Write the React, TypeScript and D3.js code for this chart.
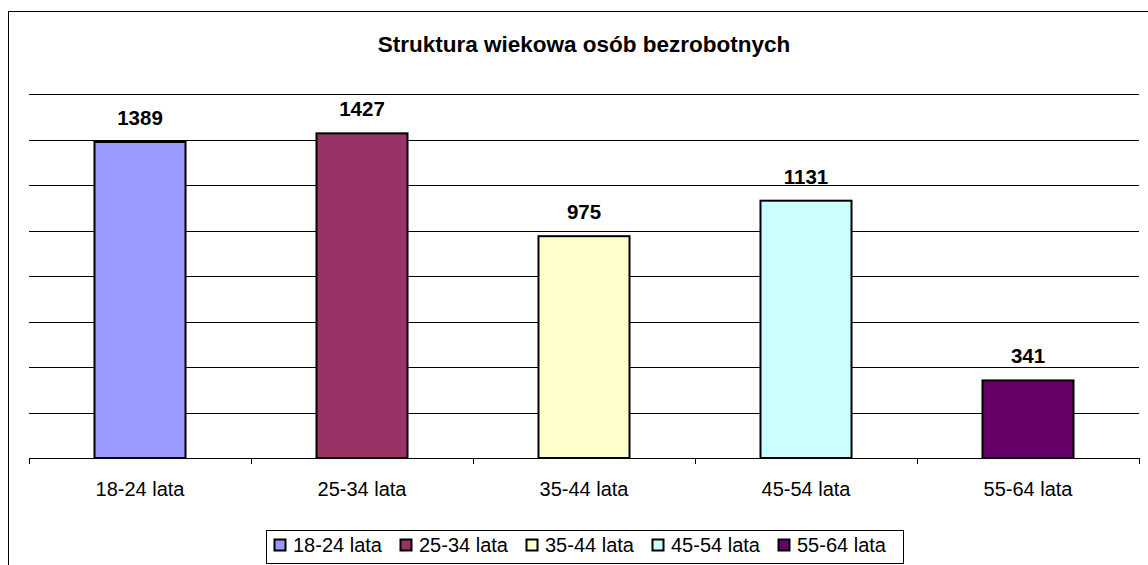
import React from "react";
import * as d3 from "d3";

const categories = ["18-24 lata", "25-34 lata", "35-44 lata", "45-54 lata", "55-64 lata"];
const values = [1389, 1427, 975, 1131, 341];
const colors = ["#9999FF", "#993366", "#FFFFCC", "#CCFFFF", "#660066"];
const yTicks = [0, 200, 400, 600, 800, 1000, 1200, 1400, 1600];
const title = "Struktura wiekowa osób bezrobotnych";

const W = 1148;
const H = 565;
const plot = { left: 29, right: 1139, top: 94, bottom: 458 };
const FONT = "Arial, 'Liberation Sans', sans-serif";

export default function App() {
  const band = d3.scaleBand<string>().domain(categories).range([plot.left, plot.right]).padding(0);
  const x = d3
    .scaleBand<string>()
    .domain(categories)
    .range([plot.left, plot.right])
    .paddingInner(0.59)
    .paddingOuter(0.295);
  const y = d3.scaleLinear().domain([0, 1600]).range([plot.bottom, plot.top]);
  const boundaries = [...categories.map((c) => band(c) as number), plot.right];

  const legendX0 = 274;
  const legendStride = 126;

  return (
    <svg
      width={W}
      height={H}
      style={{ position: "absolute", left: 0, top: 0, background: "#fff" }}
      fontFamily={FONT}
    >
      <rect x={0} y={0} width={W} height={H} fill="#fff" />
      {/* outer chart border */}
      <rect x={8.5} y={11.5} width={W + 20} height={H + 20} fill="none" stroke="#000" strokeWidth={1} />
      <text x={584} y={52} textAnchor="middle" fontSize={22.5} fontWeight="bold" fill="#000">
        {title}
      </text>
      {/* gridlines */}
      {yTicks.slice(1).map((t) => (
        <line
          key={t}
          x1={plot.left}
          x2={plot.right}
          y1={Math.round(y(t)) + 0.5}
          y2={Math.round(y(t)) + 0.5}
          stroke="#000"
          strokeWidth={1}
        />
      ))}
      {/* bars */}
      {categories.map((c, i) => (
        <rect
          key={c}
          x={x(c)}
          y={y(values[i])}
          width={x.bandwidth()}
          height={plot.bottom - y(values[i])}
          fill={colors[i]}
          stroke="#000"
          strokeWidth={2}
        />
      ))}
      {/* x axis */}
      <line x1={plot.left} x2={plot.right} y1={plot.bottom + 0.5} y2={plot.bottom + 0.5} stroke="#000" />
      {boundaries.map((b, i) => (
        <line key={i} x1={b + 0.5} x2={b + 0.5} y1={plot.bottom} y2={plot.bottom + 6} stroke="#000" />
      ))}
      {categories.map((c) => (
        <text
          key={c}
          x={(band(c) as number) + band.bandwidth() / 2}
          y={496}
          textAnchor="middle"
          fontSize={20}
          fill="#000"
        >
          {c}
        </text>
      ))}
      {/* value labels */}
      {categories.map((c, i) => (
        <text
          key={c}
          x={(x(c) as number) + x.bandwidth() / 2}
          y={y(values[i]) - 17}
          textAnchor="middle"
          fontSize={20.5}
          fontWeight="bold"
          fill="#000"
        >
          {values[i]}
        </text>
      ))}
      {/* legend */}
      <rect x={266.5} y={530.5} width={637} height={33} fill="#fff" stroke="#000" />
      {categories.map((c, i) => (
        <g key={c} transform={`translate(${legendX0 + i * legendStride},0)`}>
          <rect x={0.5} y={539.5} width={11} height={11} fill={colors[i]} stroke="#000" strokeWidth={2} />
          <text x={19} y={552} fontSize={20} fill="#000">
            {c}
          </text>
        </g>
      ))}
    </svg>
  );
}
